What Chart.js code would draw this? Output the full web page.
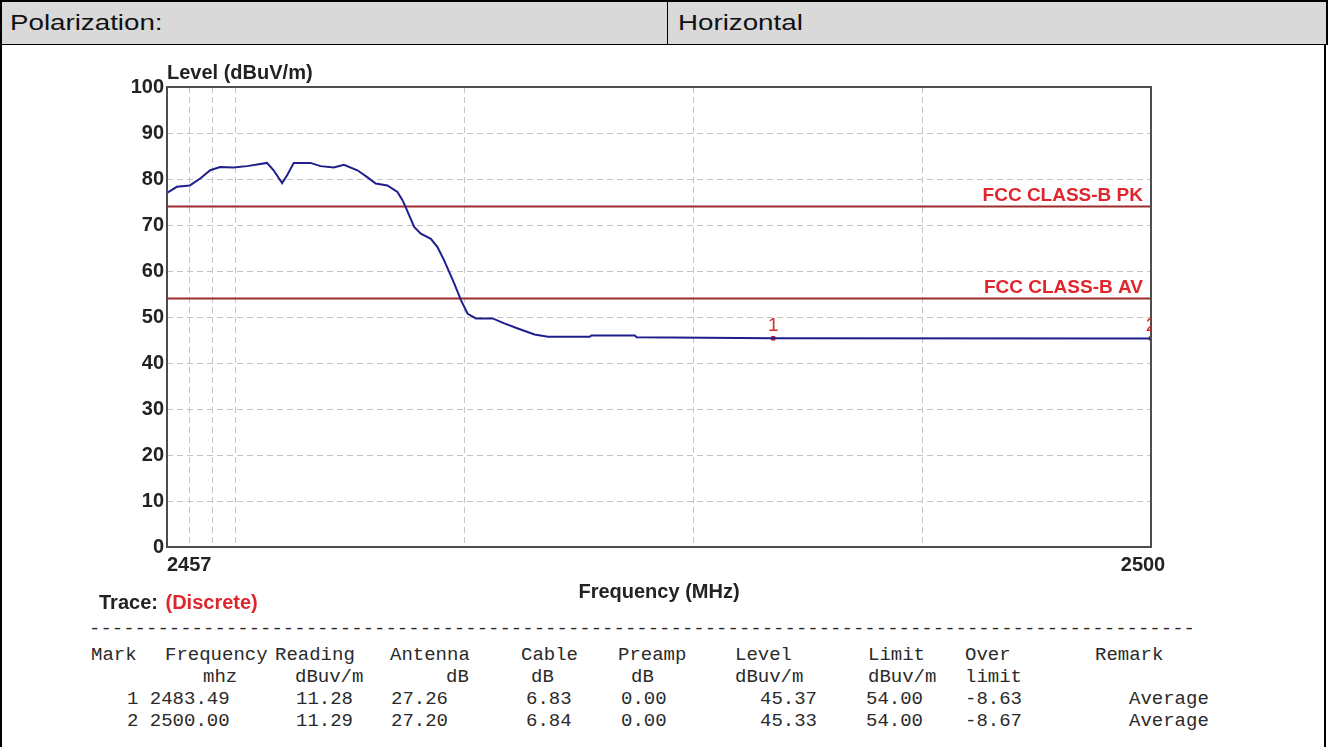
<!DOCTYPE html>
<html>
<head>
<meta charset="utf-8">
<script src="https://cdn.jsdelivr.net/npm/chart.js@4.4.1/dist/chart.umd.min.js"></script>
<style>
  html, body { margin: 0; padding: 0; background: #fff; }
  #page { position: relative; width: 1333px; height: 747px; overflow: hidden; background: #fff; }
  #hdr { position: absolute; left: 0; top: 0; width: 1324px; height: 42px; background: #d9d9d9;
         border: 2px solid #000; border-bottom: 1px solid #000; }
  #hdr .cell { position: absolute; top: 0; height: 42px; line-height: 42px;
               font-family: 'Liberation Sans', Arial, sans-serif; font-size: 22px; color: #111; }
  #hdr .cell span { display: inline-block; transform: scaleX(1.26); transform-origin: 0 50%; }
  #divider { position: absolute; left: 665px; top: 0; width: 1px; height: 42px; background: #000; }
  #frameL { position: absolute; left: 0; top: 44px; width: 2px; height: 703px; background: #000; }
  #frameR { position: absolute; left: 1324px; top: 44px; width: 2px; height: 703px; background: #000; }
  #chartBox { position: absolute; left: 0; top: 46px; width: 1333px; height: 570px; }
  #table .t { position: absolute; font-family: 'Liberation Mono', 'Courier New', monospace;
              font-size: 19px; color: #2a2a2a; white-space: pre; line-height: 22px; }
</style>
</head>
<body>
<div id="page">
  <div id="hdr">
    <div class="cell" style="left:8px"><span>Polarization:</span></div>
    <div id="divider"></div>
    <div class="cell" style="left:676px"><span>Horizontal</span></div>
  </div>
  <div id="frameL"></div>
  <div id="frameR"></div>
  <div id="chartBox"><canvas id="emi-chart"></canvas></div>
  <div id="table"></div>
</div>
<script>
'use strict';

/* trace (MHz / dBuV/m) */
var traceFreq = [2457.0, 2457.43, 2458.0, 2458.45, 2458.89, 2459.32, 2459.9, 2460.5, 2461.37, 2461.66,
                 2462.03, 2462.25, 2462.54, 2463.27, 2463.71, 2464.29, 2464.73, 2465.32, 2465.75, 2466.12,
                 2466.63, 2467.07, 2467.29, 2467.43, 2467.8, 2468.09, 2468.53, 2468.82, 2469.11, 2469.55,
                 2469.85, 2470.14, 2470.5, 2471.23, 2471.74, 2472.33, 2473.06, 2473.65, 2475.47, 2475.55,
                 2477.44, 2477.52, 2483.49, 2500.0];
var traceLevel = [77.0, 78.3, 78.6, 80.1, 81.9, 82.6, 82.5, 82.8, 83.5, 81.9,
                  79.1, 80.8, 83.5, 83.5, 82.8, 82.5, 83.1, 81.9, 80.4, 79.0,
                  78.6, 77.2, 75.4, 73.9, 69.6, 68.1, 67.0, 65.2, 62.3, 57.3,
                  53.6, 50.7, 49.7, 49.7, 48.6, 47.5, 46.2, 45.7, 45.7, 46.0,
                  46.0, 45.6, 45.37, 45.33];

var limitNames  = ['FCC CLASS-B PK', 'FCC CLASS-B AV'];
var limitValues = [74, 54];

var xRange     = [2457, 2500];
var xTickText  = [2457, 2500];
var xGridLines = [2458, 2459, 2460, 2470, 2480, 2490];
var yRange     = [0, 100];
var yStep      = 10;

/* marker table */
var tableHead1 = ['Mark', 'Frequency', 'Reading', 'Antenna', 'Cable', 'Preamp', 'Level', 'Limit', 'Over', 'Remark'];
var tableHead2 = ['', 'mhz', 'dBuv/m', 'dB', 'dB', 'dB', 'dBuv/m', 'dBuv/m', 'limit', ''];
var markNo   = ['1', '2'];
var markFreq = ['2483.49', '2500.00'];
var reading  = ['11.28', '11.29'];
var antenna  = ['27.26', '27.20'];
var cable    = ['6.83', '6.84'];
var preamp   = ['0.00', '0.00'];
var level    = ['45.37', '45.33'];
var limit    = ['54.00', '54.00'];
var overLim  = ['-8.63', '-8.67'];
var remark   = ['Average', 'Average'];

var TRACE_BLUE = '#1f1f8c';
var LIMIT_RED  = '#9e2b2e';
var LABEL_RED  = '#e0262d';
var TEXT_DARK  = '#222222';
var GRID_GRAY  = '#c4c4c4';
var FONT_SANS  = "'Liberation Sans', Arial, sans-serif";

/* ---------- table (html text) ---------- */
(function() {
  var box = document.getElementById('table');
  function put(txt, x, y) {
    var s = document.createElement('div');
    s.className = 't';
    s.textContent = txt;
    s.style.left = x + 'px';
    s.style.top = (y - 11) + 'px';
    box.appendChild(s);
  }
  put(new Array(98).join('-'), 89, 629);

  var h1x = [91, 165, 275, 390, 521, 618, 735, 868, 965, 1095];
  var h2x = [0, 203, 295, 446, 531, 631, 735, 868, 965, 0];
  var colx = [296, 391, 526, 621, 760, 866, 965, 1129];
  var rowY = [699, 721];
  var i;
  for (i = 0; i < tableHead1.length; i++) put(tableHead1[i], h1x[i], 655);
  for (i = 0; i < tableHead2.length; i++) if (tableHead2[i]) put(tableHead2[i], h2x[i], 677);
  for (i = 0; i < markNo.length; i++) {
    put(markNo[i] + ' ' + markFreq[i], 127, rowY[i]);
    var cols = [reading[i], antenna[i], cable[i], preamp[i], level[i], limit[i], overLim[i], remark[i]];
    for (var c = 0; c < cols.length; c++) put(cols[c], colx[c], rowY[i]);
  }
})();

/* ---------- chart ---------- */
(function() {
  var ctx = document.getElementById('emi-chart');

  var tracePts = traceFreq.map(function(f, i) { return { x: f, y: traceLevel[i] }; });
  var markPts = markFreq.map(function(f, i) { return { x: parseFloat(f), y: parseFloat(level[i]) }; });

  var datasets = [{
    label: 'Trace',
    data: tracePts,
    borderColor: TRACE_BLUE,
    borderWidth: 2,
    pointRadius: 0,
    tension: 0
  }];
  limitValues.forEach(function(v, i) {
    datasets.push({
      label: limitNames[i],
      data: [{ x: xRange[0], y: v }, { x: xRange[1], y: v }],
      borderColor: LIMIT_RED,
      borderWidth: 2,
      pointRadius: 0
    });
  });
  datasets.push({
    label: 'Markers',
    data: markPts,
    showLine: false,
    pointStyle: 'rect',
    pointRadius: 2.5,
    backgroundColor: '#d11f1f',
    borderColor: '#d11f1f',
    clip: 0
  });

  var overlay = {
    id: 'overlay',
    afterDraw: function(chart) {
      var c = chart.ctx, a = chart.chartArea;
      var xs = chart.scales.x, ys = chart.scales.y;
      c.save();

      /* plot frame */
      c.strokeStyle = '#4d4d4d';
      c.lineWidth = 2;
      c.strokeRect(a.left, a.top, a.right - a.left, a.bottom - a.top);

      /* axis texts */
      c.fillStyle = TEXT_DARK;
      c.font = 'bold 20px ' + FONT_SANS;
      c.textBaseline = 'alphabetic';
      c.textAlign = 'left';
      c.fillText('Level (dBuV/m)', a.left, a.top - 8);
      c.fillText(String(xTickText[0]), xs.getPixelForValue(xTickText[0]), a.bottom + 24);
      c.textAlign = 'center';
      c.fillText(String(xTickText[1]), xs.getPixelForValue(xTickText[1]) - 8, a.bottom + 24);
      c.fillText('Frequency (MHz)', (a.left + a.right) / 2, a.bottom + 51);

      c.textAlign = 'left';
      c.font = 'bold 20px ' + FONT_SANS;
      var tx = 99, ty = a.bottom + 62;
      c.fillText('Trace:', tx, ty);
      var w = c.measureText('Trace: ').width;
      c.fillStyle = LABEL_RED;
      c.fillText('(Discrete)', tx + w + 2, ty);

      /* limit labels */
      c.font = 'bold 19px ' + FONT_SANS;
      c.textAlign = 'right';
      limitValues.forEach(function(v, i) {
        c.fillText(limitNames[i], a.right - 8, ys.getPixelForValue(v) - 6);
      });

      /* marker numbers */
      c.beginPath();
      c.rect(a.left, a.top, a.right - a.left, a.bottom - a.top);
      c.clip();
      c.fillStyle = '#d42a2a';
      c.font = '19px ' + FONT_SANS;
      c.textAlign = 'center';
      markPts.forEach(function(p, i) {
        c.fillText(markNo[i], xs.getPixelForValue(p.x), ys.getPixelForValue(p.y) - 7);
      });
      c.restore();
    }
  };

  new Chart(ctx, {
    type: 'line',
    data: { datasets: datasets },
    plugins: [overlay],
    options: {
      responsive: true,
      maintainAspectRatio: false,
      animation: false,
      events: [],
      layout: { padding: { left: 27, right: 182, top: 41, bottom: 39 } },
      plugins: { legend: { display: false }, tooltip: { enabled: false } },
      scales: {
        x: {
          type: 'linear',
          min: xRange[0],
          max: xRange[1],
          afterBuildTicks: function(s) { s.ticks = xGridLines.map(function(v) { return { value: v }; }); },
          afterFit: function(s) { s.height = 30; },
          ticks: { display: false },
          grid: { color: GRID_GRAY, lineWidth: 1, drawTicks: false },
          border: { display: false, dash: [6, 4] }
        },
        y: {
          min: yRange[0],
          max: yRange[1],
          afterFit: function(s) { s.width = 140; },
          ticks: {
            stepSize: yStep,
            padding: 3,
            color: TEXT_DARK,
            font: { family: FONT_SANS, size: 20, weight: 'bold' }
          },
          grid: {
            color: function(g) {
              var v = g.tick && g.tick.value;
              return (v === yRange[0] || v === yRange[1]) ? 'rgba(0,0,0,0)' : GRID_GRAY;
            },
            lineWidth: 1,
            drawTicks: false
          },
          border: { display: false, dash: [6, 4] }
        }
      }
    }
  });
})();
</script>
</body>
</html>
